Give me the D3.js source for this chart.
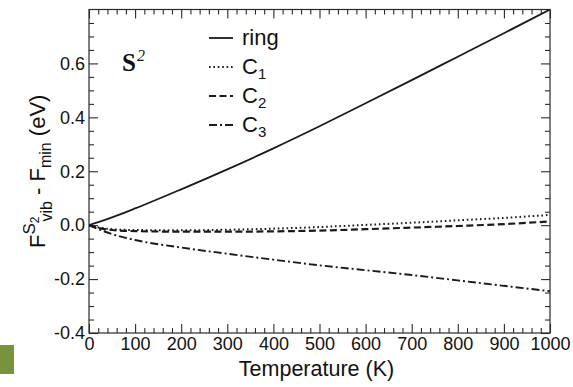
<!DOCTYPE html>
<html>
<head>
<meta charset="utf-8">
<script src="https://cdn.jsdelivr.net/npm/d3@7"></script>
<style>
  html, body { margin: 0; padding: 0; background: #fff; }
  svg { display: block; }
</style>
</head>
<body>
<svg id="chart" width="573" height="387"></svg>
<script>
// Vibrational free energy of the S2 configurations relative to the minimum
const temperature = [0, 25, 50, 100, 200, 300, 400, 500, 600, 700, 800, 900, 1000];
const ringValues  = [0, 0.014, 0.029, 0.062, 0.133, 0.207, 0.285, 0.367, 0.452, 0.538, 0.625, 0.712, 0.800];
const c1Values    = [0, -0.010, -0.015, -0.018, -0.019, -0.017, -0.013, -0.007, 0.001, 0.009, 0.018, 0.027, 0.038];
const c2Values    = [0, -0.012, -0.018, -0.022, -0.024, -0.024, -0.023, -0.020, -0.015, -0.009, -0.003, 0.004, 0.014];
const c3Values    = [0, -0.018, -0.033, -0.055, -0.083, -0.106, -0.128, -0.149, -0.167, -0.185, -0.205, -0.225, -0.245];

const seriesNames = ["ring", "C", "C", "C"];
const seriesSubs  = ["", "1", "2", "3"];
const xTickValues = [0, 100, 200, 300, 400, 500, 600, 700, 800, 900, 1000];
const yTickValues = [-0.4, -0.2, 0.0, 0.2, 0.4, 0.6];

const svg = d3.select("#chart");
const plotLeft = 89, plotRight = 550, plotTop = 9.5, plotBottom = 333;
const ink = "#2a2a2a";
const sans = "Liberation Sans, Arial, sans-serif";

const x = d3.scaleLinear().domain([0, 1000]).range([plotLeft, plotRight]);
const y = d3.scaleLinear().domain([-0.4, 0.8]).range([plotBottom, plotTop]);

// corner badge
svg.append("rect").attr("x", 0).attr("y", 345).attr("width", 14).attr("height", 29).attr("fill", "#77933c");

// frame
svg.append("rect")
  .attr("x", plotLeft).attr("y", plotTop).attr("width", plotRight - plotLeft).attr("height", plotBottom - plotTop)
  .attr("fill", "none").attr("stroke", ink).attr("stroke-width", 1.2);

const majorLen = 9, minorLen = 5;
const xMinor = d3.range(0, 1001, 20).filter(v => v % 100 !== 0);
const yMinor = d3.range(-8, 17).map(k => +(k * 0.05).toFixed(2)).filter(v => Math.abs(v * 5 - Math.round(v * 5)) > 1e-6);

// inward ticks on all four sides via d3 axes
function tickAxis(axisFn, scale, values, len, transform) {
  const g = svg.append("g").attr("transform", transform)
    .call(axisFn(scale).tickValues(values).tickSize(len).tickFormat(""));
  g.select(".domain").remove();
  g.selectAll("line").attr("stroke", ink).attr("stroke-width", 1.1);
  return g;
}
tickAxis(d3.axisTop, x, xTickValues, majorLen, `translate(0,${plotBottom})`);
tickAxis(d3.axisTop, x, xMinor, minorLen, `translate(0,${plotBottom})`);
tickAxis(d3.axisBottom, x, xTickValues, majorLen, `translate(0,${plotTop})`);
tickAxis(d3.axisBottom, x, xMinor, minorLen, `translate(0,${plotTop})`);
tickAxis(d3.axisRight, y, yTickValues, majorLen, `translate(${plotLeft},0)`);
tickAxis(d3.axisRight, y, yMinor, minorLen, `translate(${plotLeft},0)`);
tickAxis(d3.axisLeft, y, yTickValues, majorLen, `translate(${plotRight},0)`);
tickAxis(d3.axisLeft, y, yMinor, minorLen, `translate(${plotRight},0)`);

// tick labels
const xLab = svg.append("g").attr("transform", `translate(0,${plotBottom})`)
  .call(d3.axisBottom(x).tickValues(xTickValues).tickSize(0).tickPadding(4).tickFormat(d3.format("d")));
xLab.select(".domain").remove();
xLab.selectAll("text").attr("font-family", sans).attr("font-size", 18).attr("fill", "#111");

const yLab = svg.append("g").attr("transform", `translate(${plotLeft},0)`)
  .call(d3.axisLeft(y).tickValues(yTickValues).tickSize(0).tickPadding(4)
    .tickFormat(v => v.toFixed(1)));
yLab.select(".domain").remove();
yLab.selectAll("text").attr("font-family", sans).attr("font-size", 18).attr("fill", "#111");

// curves
const styles = [
  { values: ringValues, dash: null, width: 1.8 },
  { values: c1Values, dash: "1.6,2.8", width: 2 },
  { values: c2Values, dash: "7,3.5", width: 2.2 },
  { values: c3Values, dash: "8,3,2,3", width: 1.9 }
];

svg.append("clipPath").attr("id", "plotClip")
  .append("rect").attr("x", plotLeft).attr("y", plotTop).attr("width", plotRight - plotLeft).attr("height", plotBottom - plotTop);

const line = d3.line().x((d, i) => x(temperature[i])).y(d => y(d)).curve(d3.curveMonotoneX);
const plot = svg.append("g").attr("clip-path", "url(#plotClip)");
styles.forEach(s => {
  plot.append("path")
    .attr("d", line(s.values))
    .attr("fill", "none")
    .attr("stroke", "#1a1a1a")
    .attr("stroke-width", s.width)
    .attr("stroke-dasharray", s.dash);
});

// legend
const legendBase = [45, 74, 103, 132];
styles.forEach((s, i) => {
  const yb = legendBase[i];
  svg.append("line")
    .attr("x1", 209).attr("x2", 233).attr("y1", yb - 7).attr("y2", yb - 7)
    .attr("stroke", "#1a1a1a").attr("stroke-width", s.width)
    .attr("stroke-dasharray", s.dash);
  const t = svg.append("text").attr("x", 242).attr("y", yb)
    .attr("font-family", sans).attr("font-size", 22).attr("fill", "#111")
    .text(seriesNames[i]);
  if (seriesSubs[i]) {
    t.append("tspan").attr("font-size", 15).attr("dy", 5).text(seriesSubs[i]);
  }
});

// configuration label
const sLab = svg.append("text").attr("x", 122).attr("y", 71)
  .attr("font-family", "Liberation Serif, Times New Roman, serif").attr("font-size", 25)
  .attr("font-weight", "bold").attr("fill", "#111").text("S");
sLab.append("tspan").attr("font-size", 16).attr("font-style", "italic").attr("font-weight", "normal")
  .attr("dx", 1).attr("dy", -10).text("2");

// axis titles
svg.append("text").attr("x", (plotLeft + plotRight) / 2 - 3).attr("y", 376)
  .attr("text-anchor", "middle")
  .attr("font-family", sans).attr("font-size", 21.5).attr("fill", "#111")
  .text("Temperature (K)");

const yTitle = svg.append("text")
  .attr("transform", "translate(45,248) rotate(-90)")
  .attr("font-family", sans).attr("font-size", 22).attr("fill", "#111");
yTitle.append("tspan").text("F");
yTitle.append("tspan").attr("font-size", 17).attr("dy", -10).text("S");
yTitle.append("tspan").attr("font-size", 12).attr("dy", 4).text("2");
yTitle.append("tspan").attr("font-size", 16).attr("dx", -5).attr("dy", 13).text("vib");
yTitle.append("tspan").attr("dy", -7).text(" - F");
yTitle.append("tspan").attr("font-size", 16).attr("dy", 6).text("min");
yTitle.append("tspan").attr("dy", -6).text(" (eV)");
</script>
</body>
</html>
